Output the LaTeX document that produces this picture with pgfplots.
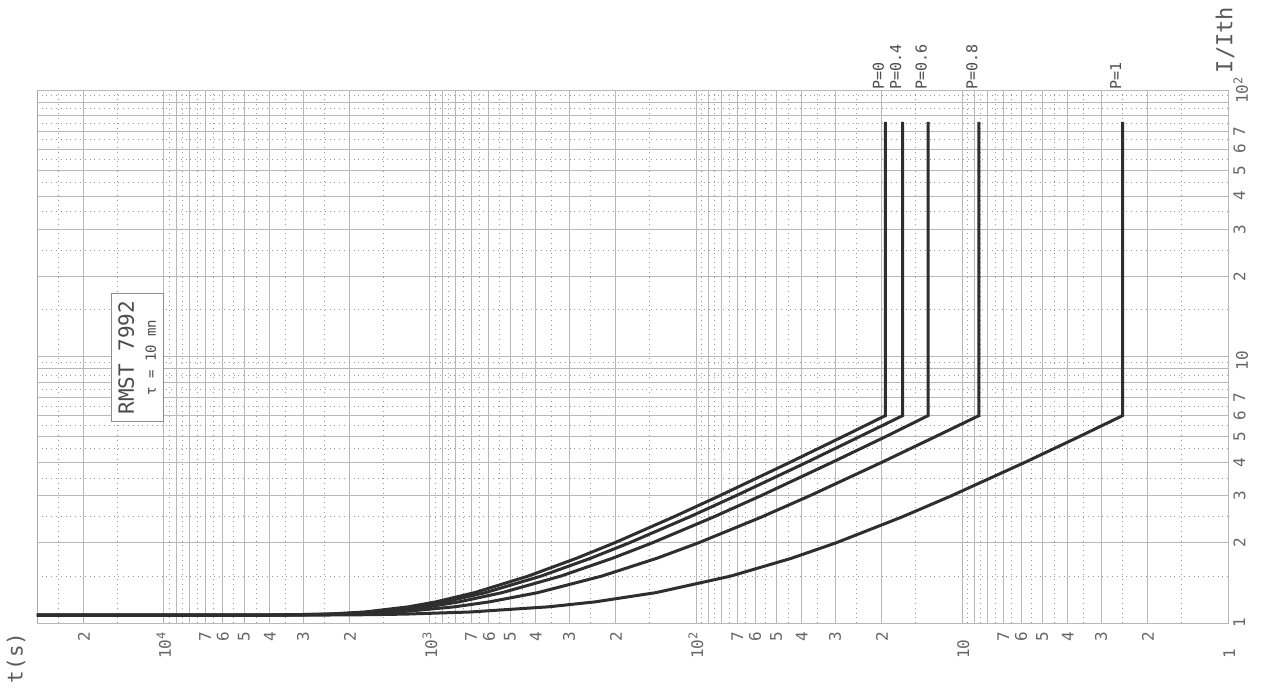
\documentclass[border=0pt]{standalone}
\usepackage{pgfplots}
\pgfplotsset{compat=1.18}
\usepackage{fontspec}
\setmainfont{DejaVu Sans Mono}
\begin{document}
\begin{tikzpicture}
\begin{axis}[
  at={(0,0)}, anchor=south west,
  scale only axis, width=595.5pt, height=266.5pt,
  xmode=log, ymode=log, x dir=reverse,
  xmin=1, xmax=30000, ymin=1, ymax=100,
  clip=false,
  axis line style={draw=black!35, line width=0.4pt},
  major tick length=0pt, minor tick length=0pt,
  grid=both,
  major grid style={black!28, line width=0.45pt},
  minor grid style={black!40, dotted, line width=0.45pt},
  xtick={2,3,4,5,6,7,8,9,20,30,40,50,60,70,80,90,200,300,400,500,600,700,800,900,2000,3000,4000,5000,6000,7000,8000,9000,20000,30000},
  xticklabels={2,3,4,5,6,7,{},{},2,3,4,5,6,7,{},{},2,3,4,5,6,7,{},{},2,3,4,5,6,7,{},{},2,{}},
  minor xtick={1.5,2.5,3.5,4.5,5.5,6.5,7.5,8.5,9.5,15,25,35,45,55,65,75,85,95,150,250,350,450,550,650,750,850,950,1500,2500,3500,4500,5500,6500,7500,8500,9500,15000,25000},
  extra x ticks={1,10,100,1000,10000},
  extra x tick labels={1\phantom{0\textsuperscript{2}},10\phantom{\textsuperscript{2}},10\textsuperscript{2},10\textsuperscript{3},10\textsuperscript{4}},
  extra x tick style={grid=major, major tick length=0pt},
  ytick={2,3,4,5,6,7,8,9,20,30,40,50,60,70,80,90},
  yticklabels={2,3,4,5,6,7,{},{},2,3,4,5,6,7,{},{}},
  minor ytick={1.5,2.5,3.5,4.5,5.5,6.5,7.5,8.5,9.5,15,25,35,45,55,65,75,85,95},
  extra y ticks={1,10,100},
  extra y tick labels={1,10\phantom{\textsuperscript{2}},10\textsuperscript{2}},
  extra y tick style={grid=major, major tick length=0pt},
  yticklabel pos=right,
  ticklabel style={font=\fontsize{8}{9}\selectfont, text=black!60, inner sep=0pt},
  xticklabel style={rotate=90, anchor=east},
  yticklabel style={rotate=90, anchor=north},
  xticklabel shift=4pt,
  yticklabel shift=2.5pt,
]
% P = 0
\addplot[black!82, line width=1.5pt] coordinates {
 (30000,1.07) (4186,1.0705) (2396,1.08) (1753,1.1) (1205,1.15) (951,1.2) (679,1.3) (427,1.5) (281,1.75) (202,2) (121.4,2.5) (81.6,3) (44.5,4) (28.1,5) (19.4,6) (19.4,76)
};
% P = 0.4
\addplot[black!82, line width=1.5pt] coordinates {
 (30000,1.07) (4100,1.0705) (2307,1.08) (1668,1.1) (1127,1.15) (880,1.2) (619,1.3) (382,1.5) (248.7,1.75) (177.8,2) (105.8,2.5) (70.9,3) (38.5,4) (24.3,5) (16.7,6) (16.7,76)
};
% P = 0.6
\addplot[black!82, line width=1.5pt] coordinates {
 (30000,1.07) (3960,1.0705) (2175,1.08) (1542,1.1) (1014,1.15) (778,1.2) (535,1.3) (322,1.5) (205.9,1.75) (145.7,2) (85.8,2.5) (57.1,3) (30.9,4) (19.4,5) (13.4,6) (13.4,76)
};
% P = 0.8
\addplot[black!82, line width=1.5pt] coordinates {
 (30000,1.07) (3695,1.0705) (1919,1.08) (1302,1.1) (808,1.15) (598,1.2) (393,1.3) (225.8,1.5) (140.2,1.75) (97.7,2) (56.6,2.5) (37.4,3) (20.1,4) (12.6,5) (8.63,6) (8.63,76)
};
% P = 1
\addplot[black!82, line width=1.5pt] coordinates {
 (30000,1.07) (2949,1.0705) (2130,1.072) (1605,1.075) (1228,1.08) (702.7,1.1) (358,1.15) (239.7,1.2) (141.4,1.3) (73.9,1.5) (43.7,1.75) (29.7,2) (16.8,2.5) (10.97,3) (5.82,4) (3.63,5) (2.49,6) (2.49,76)
};
\begin{scope}[every node/.style={rotate=90, anchor=west, font=\fontsize{7.5}{8}\selectfont, text=black!70, inner sep=0pt}]
\node at (axis cs:19.4,100) [yshift=3.5pt] {P=0};
\node at (axis cs:16.7,100) [yshift=3.5pt] {P=0.4};
\node at (axis cs:13.4,100) [yshift=3.5pt] {P=0.6};
\node at (axis cs:8.63,100) [yshift=3.5pt] {P=0.8};
\node at (axis cs:2.49,100) [yshift=3.5pt] {P=1};
\end{scope}
\node[rotate=90, draw=black!45, fill=white, line width=0.5pt, inner sep=3.5pt, align=center, text=black!70]
  at (axis cs:12600,9.9) {{\fontsize{10.5}{11}\selectfont RMST 7992}\\[-1pt]{\fontsize{7}{8}\selectfont τ = 10 mn}};
\end{axis}
\node[rotate=90, font=\fontsize{10.5}{11}\selectfont, text=black!65] at (-10.5pt,-17.5pt) {t(s)};
\node[rotate=90, font=\fontsize{11}{12}\selectfont, text=black!65] at (594pt,291.5pt) {I/Ith};
\pgfresetboundingbox
\useasboundingbox (-18.5pt,-36pt) rectangle (614pt,311.5pt);
\end{tikzpicture}
\end{document}
